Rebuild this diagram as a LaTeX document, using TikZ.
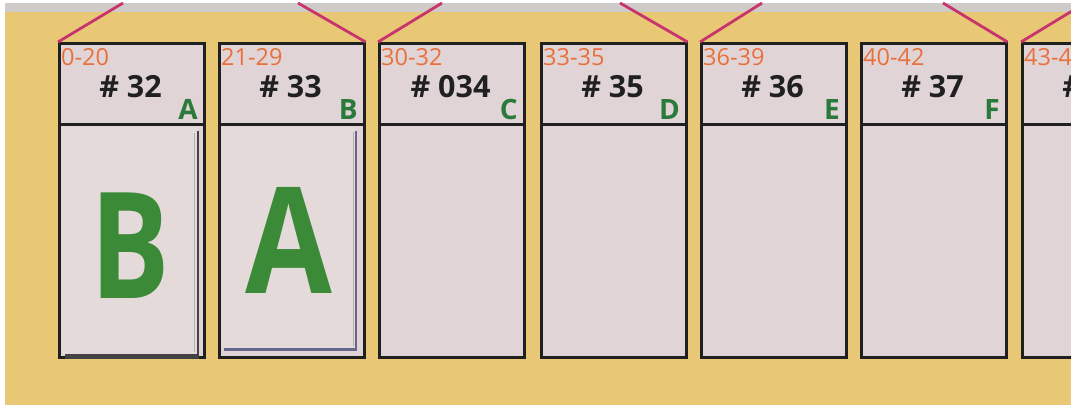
\documentclass[tikz,border=0pt]{standalone}
\usepackage{fontspec}
\setmainfont{Open Sans}
\definecolor{bgyellow}{HTML}{E8C874}
\definecolor{topgray}{HTML}{CFCBC8}
\definecolor{boxfill}{HTML}{E1D4D6}
\definecolor{cardfill}{HTML}{E5DADA}
\definecolor{rangeor}{HTML}{E8703A}
\definecolor{lettergreen}{HTML}{2A7A3C}
\definecolor{biggreen}{HTML}{3A8A38}
\definecolor{roofpink}{HTML}{C8346E}
\definecolor{framek}{HTML}{202020}
\begin{document}
\begin{tikzpicture}[x=1pt,y=-1pt,
  binhead/.style={draw=framek,fill=boxfill,line width=2.6pt,minimum width=145pt,minimum height=81pt,inner sep=0pt,anchor=north west},
  binbody/.style={draw=framek,fill=boxfill,line width=2.6pt,minimum width=145pt,minimum height=233pt,inner sep=0pt,anchor=north west},
  rangetxt/.style={text=rangeor,font=\fontsize{23.5}{23.5}\selectfont,inner sep=0pt,anchor=base west},
  numtxt/.style={text=framek,font=\fontsize{30.5}{30.5}\selectfont\bfseries,inner sep=0pt,anchor=base},
  lettxt/.style={text=lettergreen,font=\fontsize{28}{28}\selectfont\bfseries,inner sep=0pt,anchor=base east},
  cardbox/.style={fill=cardfill,inner sep=0pt,anchor=north west},
  bigtxt/.style={text=biggreen,font=\fontsize{148}{148}\selectfont\bfseries,inner sep=0pt,anchor=center},
  roof/.style={draw=roofpink,line width=2.8pt}]
\useasboundingbox (0,0) rectangle (1071,407);
\begin{scope}
\clip (0,0) rectangle (1071,407);
\fill[white] (0,0) rectangle (1071,407);
\fill[bgyellow] (5,3) rectangle (1071,405);
\fill[topgray] (5,3) rectangle (1071,12);
% roof tops
\coordinate (t1) at (123,3);
\coordinate (t2) at (298,3);
\coordinate (t3) at (442,3);
\coordinate (t4) at (620,3);
\coordinate (t5) at (762,3);
\coordinate (t6) at (943,3);
\coordinate (t7) at (1100,-6);
% bins
\foreach \i/\x/\r/\n/\l in {1/58/0-20/32/A,2/218/21-29/33/B,3/378/30-32/034/C,4/540/33-35/35/D,5/700/36-39/36/E,6/860/40-42/37/F}{
  \node[binhead] (h\i) at (\x,42) {};
  \node[binbody] (b\i) at (\x,123) {};
  \node[rangetxt] (r\i) at (\x+3,65) {\r};
  \node[numtxt] (n\i) at (\x+72.5,97) {\# \n};
  \node[lettxt] (l\i) at (\x+140,119) {\l};
}
\node[binhead] (h7) at (1021,42) {};
\node[binbody] (b7) at (1021,123) {};
\node[rangetxt] (r7) at (1024,65) {43-45};
\node[numtxt] (n7) at (1093.5,97) {\# 38};
% roof lines
\draw[roof] (h1.north west) -- (t1);
\draw[roof] (h2.north east) -- (t2);
\draw[roof] (h3.north west) -- (t3);
\draw[roof] (h4.north east) -- (t4);
\draw[roof] (h5.north west) -- (t5);
\draw[roof] (h6.north east) -- (t6);
\draw[roof] (h7.north west) -- (t7);
% cards
\fill[framek!85] (65,131) rectangle (199,358.5);
\node[cardbox,minimum width=135pt,minimum height=227pt] (c1) at (62,127) {};
\draw[black!30,line width=0.8pt] (194,133) -- (194,352);
\node[bigtxt] (bigB) at (130,245.5) {\scalebox{0.8}[1]{B}};
\fill[blue!25!black!60] (224,131) rectangle (357,350.5);
\node[cardbox,minimum width=133pt,minimum height=221pt] (c2) at (222,127) {};
\draw[black!30,line width=0.8pt] (353,132) -- (353,346);
\node[bigtxt] (bigA) at (289,240) {\scalebox{0.85}[1]{A}};
\end{scope}
\end{tikzpicture}
\end{document}
